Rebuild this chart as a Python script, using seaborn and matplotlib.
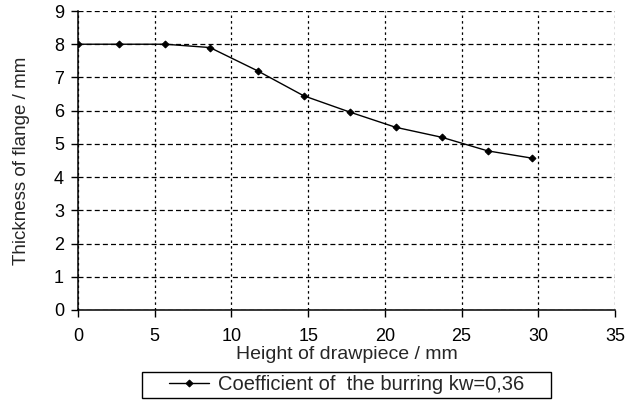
import matplotlib
matplotlib.use("Agg")
import matplotlib.pyplot as plt
from matplotlib.patches import Rectangle
import seaborn as sns
import pandas as pd

# Data
height = [0, 2.7, 5.7, 8.6, 11.7, 14.7, 17.7, 20.7, 23.7, 26.7, 29.6]
thickness = [8.0, 8.0, 8.0, 7.9, 7.2, 6.45, 5.96, 5.5, 5.2, 4.79, 4.57]
series_label = "Coefficient of  the burring kw=0,36"

sns.set_style("ticks")
plt.rcParams['font.family'] = ['Liberation Sans', 'DejaVu Sans']

df = pd.DataFrame({"h": height, "t": thickness})

fig = plt.figure(figsize=(6.25, 4.03), dpi=100)
ax = fig.add_axes([78 / 625, 1 - 310 / 403, (615 - 78) / 625, (310 - 11) / 403])

sns.lineplot(data=df, x="h", y="t", ax=ax, color="black", linewidth=1.0,
             marker="D", markersize=3.5, markeredgecolor="black", label=series_label)

ax.set_xlim(0, 35)
ax.set_ylim(0, 9)
ax.set_xticks(range(0, 36, 5))
ax.set_yticks(range(0, 10))
ax.xaxis.grid(True, color="black", linestyle=(0, (2, 2.5)), linewidth=0.9)
ax.yaxis.grid(True, color="black", linestyle=(0, (4, 2.5)), linewidth=0.9)
ax.set_axisbelow(True)
for s in ["top", "right"]:
    ax.spines[s].set_visible(False)
for s in ["left", "bottom"]:
    ax.spines[s].set_linewidth(1.1)
    ax.spines[s].set_color("black")
ax.tick_params(axis="both", labelsize=13, colors="black", length=5, width=1, pad=8)
ax.tick_params(axis="y", pad=5)

ax.set_xlabel("Height of drawpiece / mm", fontsize=14, labelpad=1)
ax.set_ylabel("Thickness of flange / mm", fontsize=13.5, labelpad=17)

leg = ax.legend(loc="upper center", bbox_to_anchor=(0.5, -0.21), frameon=False,
                fontsize=14.5, handlelength=2, borderpad=0.12,
                handletextpad=0.4, borderaxespad=0)

# wider box round the legend, as in the original
fig.canvas.draw()
bb = leg.get_window_extent()
fig.patches.append(Rectangle((bb.x0 - 25, bb.y0 - 1), bb.width + 50, bb.height + 2,
                             transform=None, fill=False, edgecolor="black", linewidth=1.0))

fig.savefig("out.png", dpi=100)
plt.close()
